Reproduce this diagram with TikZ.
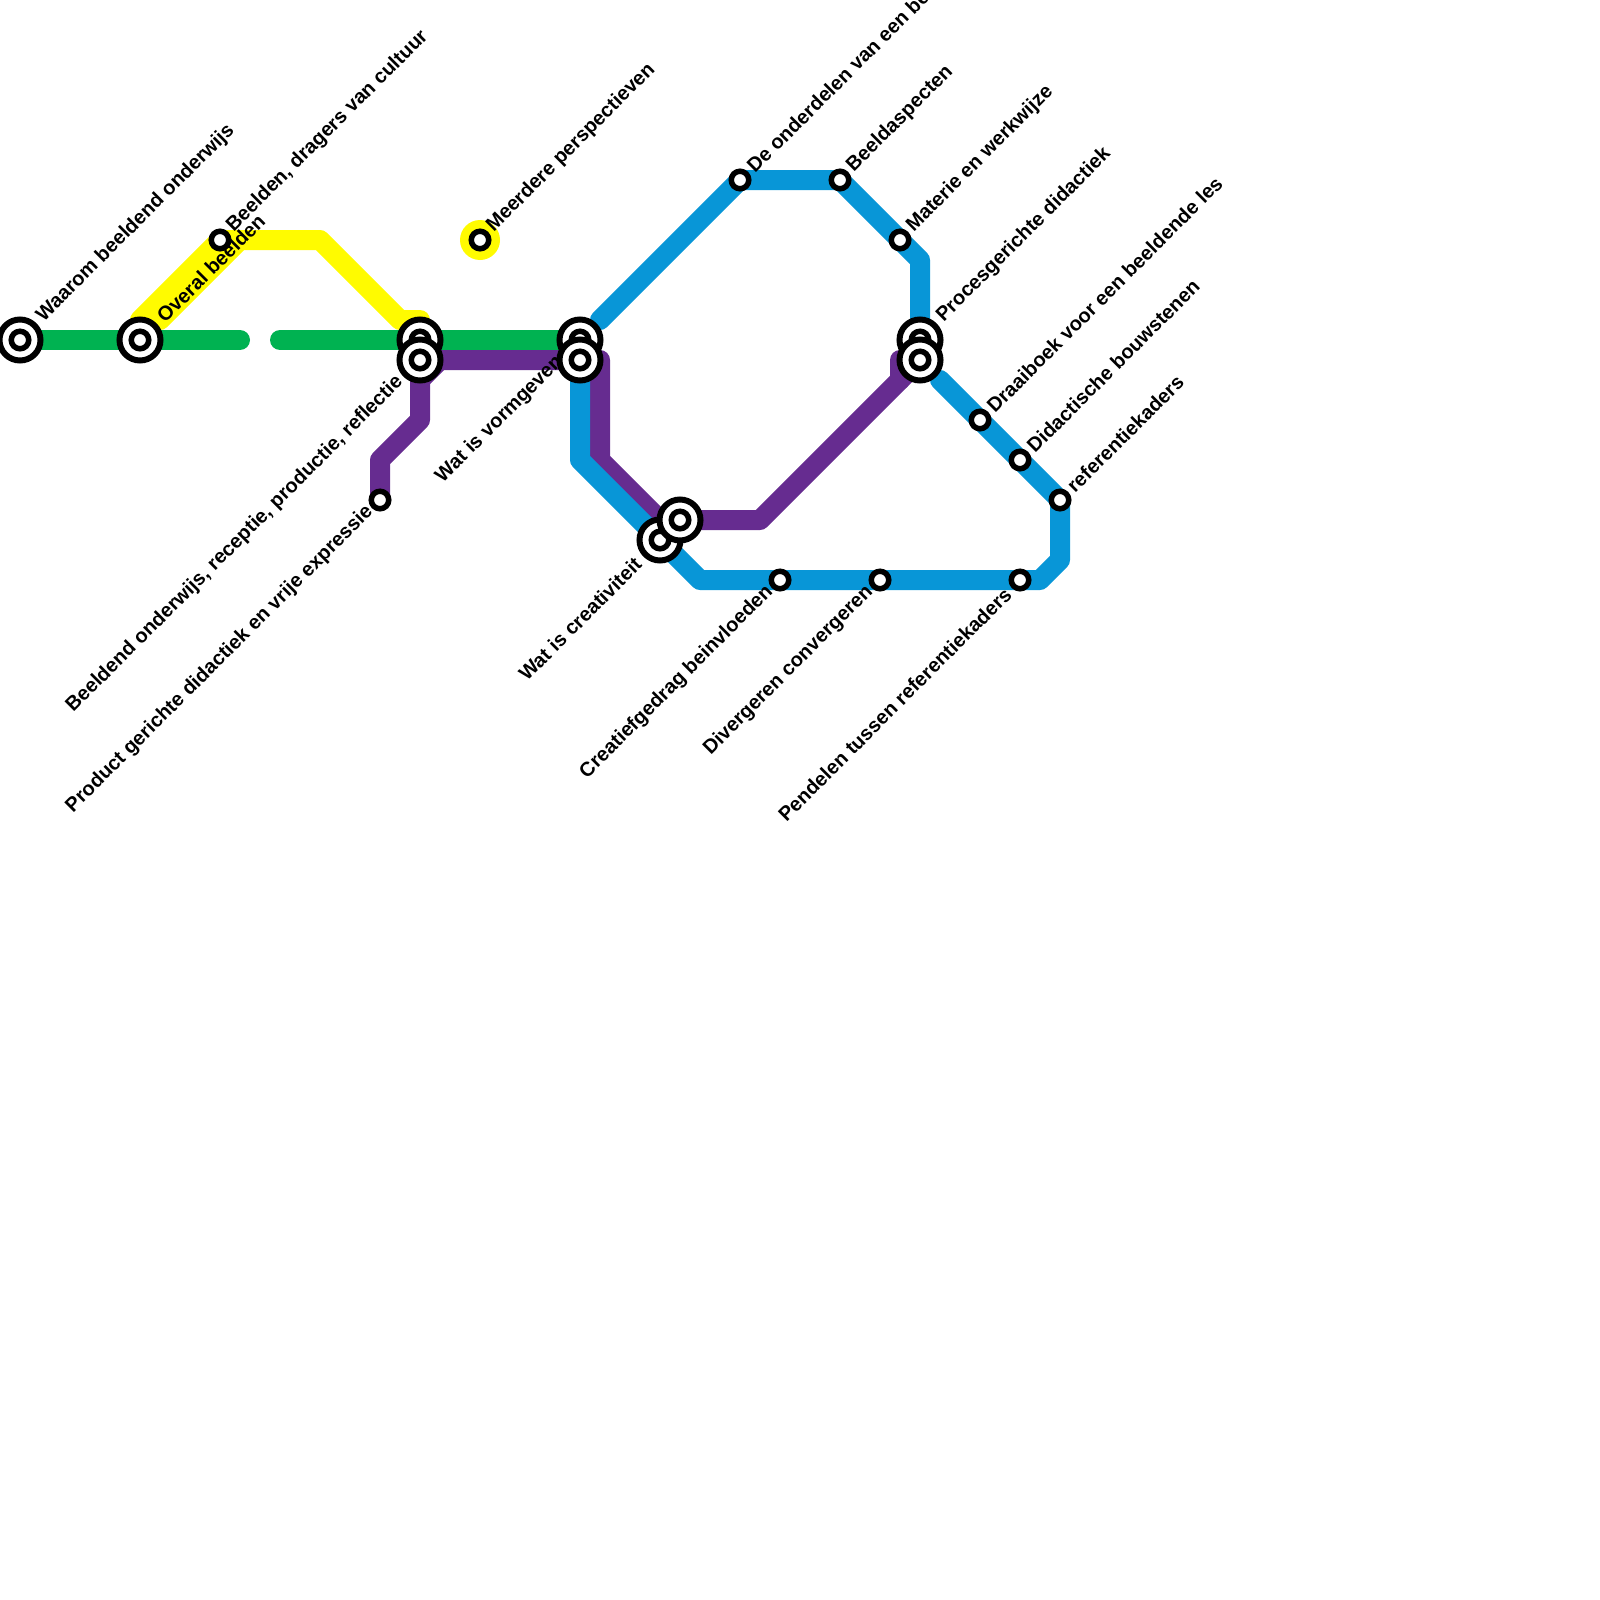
\documentclass[tikz,border=0pt]{standalone}
\usepackage{fontspec}
\setmainfont{Liberation Sans}[BoldFont={Liberation Sans Bold}]
\usetikzlibrary{backgrounds}
\definecolor{grn}{HTML}{00B251}
\definecolor{ylw}{HTML}{FFFB00}
\definecolor{prp}{HTML}{662C90}
\definecolor{blu}{HTML}{0896D7}
\tikzset{
  metro/.style={line width=20pt,line join=round,line cap=round},
  small/.style={circle,draw=black,fill=white,line width=5.5pt,minimum size=17.5pt,inner sep=0pt,outer sep=0pt},
  big/.style={circle,draw=black,fill=white,line width=6pt,minimum size=41pt,inner sep=0pt,outer sep=0pt},
  lblur/.style={font=\fontsize{20}{22}\selectfont\bfseries,rotate=45,anchor=west,inner sep=0pt},
  lbldl/.style={font=\fontsize{20}{22}\selectfont\bfseries,rotate=45,anchor=east,inner sep=0pt},
}
\newcommand{\bigst}[2]{\node[big] (#1) at (#2) {}; \node[small] (#1i) at (#2) {};}
\begin{document}
\begin{tikzpicture}[x=1pt,y=-1pt]
\clip (0,0) rectangle (1600,1600);
% stations
\node[small] (beeldcult) at (220,240) {};
\node[circle,fill=ylw,minimum size=40pt,inner sep=0pt] (meerdot) at (480,240) {};
\node[small] (meer) at (480,240) {};
\node[small] (onderd) at (740,180) {};
\node[small] (aspect) at (840,180) {};
\node[small] (materie) at (900,240) {};
\node[small] (draai) at (980,420) {};
\node[small] (bouw) at (1020,460) {};
\node[small] (refk) at (1060,500) {};
\node[small] (creag) at (780,580) {};
\node[small] (diver) at (880,580) {};
\node[small] (pend) at (1020,580) {};
\node[small] (prod) at (380,500) {};
\bigst{waarom}{20,340}
\bigst{overal}{140,340}
\bigst{ga}{420,340}
\bigst{gb}{580,340}
\bigst{bc}{920,340}
\bigst{pa}{420,360}
\bigst{pb}{580,360}
\bigst{pc}{920,360}
\bigst{crea}{660,540}
\bigst{pd}{680,520}
% bends and free ends
\coordinate (g1) at (240,340);
\coordinate (g2) at (280,340);
\coordinate (y0) at (140,320);
\coordinate (y1) at (320,240);
\coordinate (y2) at (400,320);
\coordinate (y3) at (420,320);
\coordinate (y4) at (160,320);
\coordinate (y5) at (240,240);
\coordinate (p1) at (380,460);
\coordinate (p2) at (420,420);
\coordinate (p2a) at (420,380);
\coordinate (p2b) at (440,360);
\coordinate (p3) at (600,360);
\coordinate (p4) at (600,460);
\coordinate (p5) at (660,520);
\coordinate (p6) at (760,520);
\coordinate (p7) at (900,380);
\coordinate (p8) at (900,360);
\coordinate (b1) at (600,320);
\coordinate (b2) at (920,260);
\coordinate (b0) at (940,380);
\coordinate (b3) at (1060,560);
\coordinate (b4) at (1040,580);
\coordinate (b5) at (700,580);
\coordinate (b6) at (580,460);
\begin{scope}[on background layer]
\draw[metro,ylw] (overal.center) -- (y0) -- (beeldcult.center) -- (y1) -- (y2) -- (y3) -- (ga.center);
\draw[metro,ylw] (y4) -- (y5);
\draw[metro,grn] (waarom.center) -- (g1);
\draw[metro,grn] (g2) -- (gb.center);
\draw[metro,prp] (prod.center) -- (p1) -- (p2) -- (pa.center) -- (p3) -- (p4) -- (p5) -- (pd.center) -- (p6) -- (pc.center);
\draw[metro,prp] (p2a) -- (p2b);
\draw[metro,prp] (p7) -- (p8) -- (pc.center);
\draw[metro,blu] (b1) -- (onderd.center) -- (aspect.center) -- (materie.center) -- (b2) -- (bc.center);
\draw[metro,blu] (b0) -- (draai.center) -- (bouw.center) -- (refk.center) -- (b3) -- (b4) -- (pend.center) -- (diver.center) -- (creag.center) -- (b5) -- (crea.center) -- (b6) -- (pb.center);
\end{scope}
% labels
\newcommand{\ur}[4]{\node[lblur] (#1) at ([xshift=#3pt,yshift=#3pt+1pt]#2.center) {#4};}
\newcommand{\dl}[4]{\node[lbldl] (#1) at ([xshift=-#3pt,yshift=-#3pt+1pt]#2.center) {#4};}
\ur{l1}{waarom}{20}{Waarom beeldend onderwijs}
\ur{l2}{overal}{20}{Overal beelden}
\ur{l3}{beeldcult}{10}{Beelden, dragers van cultuur}
\ur{l4}{meer}{10}{Meerdere perspectieven}
\ur{l5}{onderd}{10}{De onderdelen van een beeld}
\ur{l6}{aspect}{10}{Beeldaspecten}
\ur{l7}{materie}{10}{Materie en werkwijze}
\ur{l8}{bc}{20}{Procesgerichte didactiek}
\ur{l9}{draai}{10}{Draaiboek voor een beeldende les}
\ur{l10}{bouw}{10}{Didactische bouwstenen}
\ur{l11}{refk}{10}{referentiekaders}
\dl{l12}{pa}{20}{Beeldend onderwijs, receptie, productie, reflectie}
\dl{l13}{prod}{10}{Product gerichte didactiek en vrije expressie}
\dl{l14}{gb}{20}{Wat is vormgeven}
\dl{l15}{crea}{22}{Wat is creativiteit}
\dl{l16}{creag}{10}{Creatiefgedrag beinvloeden}
\dl{l17}{diver}{10}{Divergeren convergeren}
\dl{l18}{pend}{12}{Pendelen tussen referentiekaders}
\end{tikzpicture}
\end{document}
